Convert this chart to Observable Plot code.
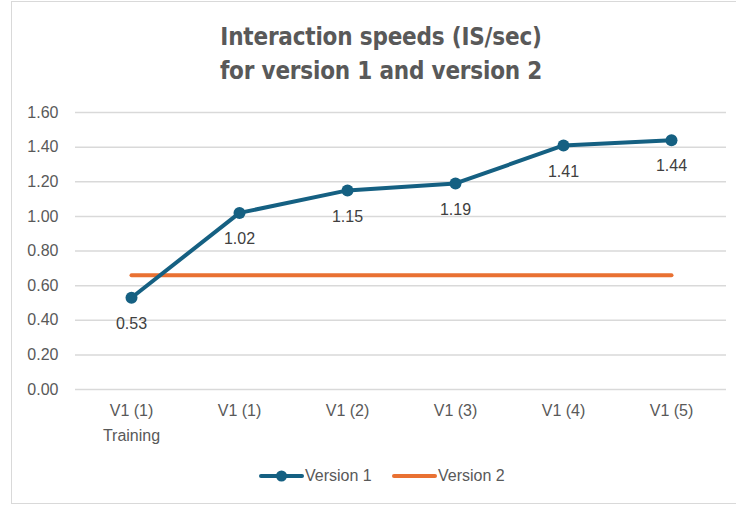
<!DOCTYPE html>
<html>
<head>
<meta charset="utf-8">
<script src="https://cdn.jsdelivr.net/npm/d3@7"></script>
<script src="https://cdn.jsdelivr.net/npm/@observablehq/plot@0.6"></script>
<style>
  html, body { margin: 0; padding: 0; background: #fff; }
  #frame { position: absolute; left: 11px; top: 1px; width: 740px; height: 503px; border: 1px solid #d9d9d9; box-sizing: border-box; }
  #wrap { position: absolute; left: 0; top: 0; width: 736px; height: 508px; }
  #title { position: absolute; left: 0; top: 20px; width: 736px; padding-left: 26px; box-sizing: border-box; text-align: center;
    font-family: "DejaVu Sans Condensed", "DejaVu Sans", sans-serif; font-stretch: condensed; font-weight: bold; font-size: 24px; line-height: 34px; color: #595959; letter-spacing: -0.2px; }
  #chart { position: absolute; left: 0; top: 95px; }
  #legend { position: absolute; left: 0; top: 465px; width: 736px; font-family: "Liberation Sans", sans-serif; font-size: 16px; color: #595959; }
  .item { position: absolute; top: 0; display: flex; align-items: center; height: 22px; }
</style>
</head>
<body>
<div id="wrap">
  <div id="frame"></div>
  <div id="title">Interaction speeds (IS/sec)<br>for version 1 and version 2</div>
  <div id="chart"></div>
  <div id="legend"></div>
</div>
<script>
const categories = ["V1 (1)\nTraining", "V1 (1)", "V1 (2)", "V1 (3)", "V1 (4)", "V1 (5)"];
const version1 = [0.53, 1.02, 1.15, 1.19, 1.41, 1.44];
const version2 = [0.66, 0.66, 0.66, 0.66, 0.66, 0.66];
const yTicks = [0, 0.2, 0.4, 0.6, 0.8, 1.0, 1.2, 1.4, 1.6];
const seriesNames = ["Version 1", "Version 2"];
const colors = ["#156082", "#E97132"];

const d1 = categories.map((c, i) => ({cat: c, v: version1[i]}));
const d2 = categories.map((c, i) => ({cat: c, v: version2[i]}));

const plot = Plot.plot({
  width: 736,
  height: 354,
  marginLeft: 75,
  marginRight: 10,
  marginTop: 17,
  marginBottom: 60,
  style: { fontFamily: "Liberation Sans, sans-serif", fontSize: "16px", color: "#595959", background: "transparent", overflow: "visible" },
  x: { type: "point", domain: categories, padding: 0.5, align: 0.5 },
  y: { domain: [0, 1.6], ticks: yTicks },
  marks: [
    Plot.gridY(yTicks, { stroke: "#d9d9d9", strokeOpacity: 1, strokeWidth: 1.5 }),
    Plot.axisY(yTicks, { tickSize: 0, tickPadding: 17, tickFormat: d => d.toFixed(2), fontSize: 16, fill: "#595959", label: null }),
    Plot.axisX({ tickSize: 0, tickPadding: 9, fontSize: 16, fill: "#595959", label: null, lineHeight: 1.55 }),
    Plot.line(d2, { x: "cat", y: "v", stroke: colors[1], strokeWidth: 4, strokeLinecap: "round" }),
    Plot.line(d1, { x: "cat", y: "v", stroke: colors[0], strokeWidth: 4, strokeLinecap: "round", strokeLinejoin: "round" }),
    Plot.dot(d1, { x: "cat", y: "v", r: 6, fill: colors[0], stroke: "none" }),
    Plot.text(d1, { x: "cat", y: "v", text: d => d.v.toFixed(2), dy: 26, fontSize: 16, fill: "#404040" })
  ]
});
document.getElementById("chart").appendChild(plot);

const legend = document.getElementById("legend");
const lx = [259, 392];
seriesNames.forEach((name, i) => {
  const item = document.createElement("div");
  item.className = "item";
  item.style.left = lx[i] + "px";
  const svg = d3.create("svg").attr("width", 46).attr("height", 22);
  svg.append("line").attr("x1", 2).attr("x2", 43).attr("y1", 11).attr("y2", 11)
    .attr("stroke", colors[i]).attr("stroke-width", 4).attr("stroke-linecap", "round");
  if (i === 0) svg.append("circle").attr("cx", 22.5).attr("cy", 11).attr("r", 5.5).attr("fill", colors[i]);
  item.appendChild(svg.node());
  const t = document.createElement("span");
  t.textContent = name;
  item.appendChild(t);
  legend.appendChild(item);
});
</script>
</body>
</html>
